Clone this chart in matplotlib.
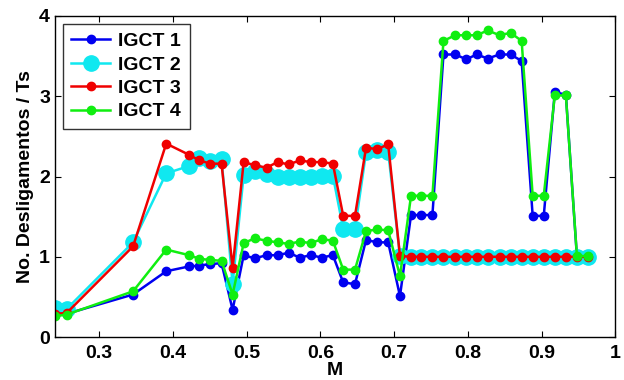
import matplotlib
matplotlib.use("Agg")
import matplotlib.pyplot as plt

plt.rcParams['font.family'] = ['Liberation Sans', 'DejaVu Sans']
plt.rcParams['font.weight'] = 'bold'

M = [0.240, 0.256, 0.346, 0.391, 0.422, 0.436, 0.451, 0.466, 0.481,
     0.496, 0.511, 0.527, 0.542, 0.557, 0.572, 0.587, 0.602, 0.617,
     0.631, 0.647, 0.662, 0.677, 0.692, 0.708, 0.723, 0.737, 0.752,
     0.767, 0.783, 0.798, 0.812, 0.827, 0.843, 0.858, 0.873,
     0.888, 0.903, 0.918, 0.933, 0.948, 0.963]

igct1 = [0.28, 0.29, 0.53, 0.82, 0.88, 0.89, 0.91, 0.92, 0.34,
         1.02, 0.98, 1.02, 1.02, 1.05, 0.99, 1.02, 0.99, 1.02,
         0.68, 0.66, 1.21, 1.18, 1.18, 0.51, 1.52, 1.52, 1.52,
         3.52, 3.52, 3.46, 3.52, 3.47, 3.52, 3.52, 3.44,
         1.51, 1.51, 3.05, 3.02, 1.00, 1.00]
igct2 = [0.36, 0.35, 1.18, 2.04, 2.13, 2.23, 2.19, 2.22, 0.66,
         2.02, 2.07, 2.03, 2.00, 2.00, 2.00, 2.00, 2.01, 2.01,
         1.35, 1.35, 2.30, 2.33, 2.31, 1.01, 1.00, 1.00, 1.00,
         1.00, 1.00, 1.00, 1.00, 1.00, 1.00, 1.00, 1.00,
         1.00, 1.00, 1.00, 1.00, 1.00, 1.00]
igct3 = [0.29, 0.30, 1.13, 2.41, 2.27, 2.20, 2.16, 2.16, 0.86,
         2.18, 2.14, 2.11, 2.18, 2.15, 2.20, 2.18, 2.18, 2.16,
         1.51, 1.51, 2.36, 2.34, 2.40, 1.01, 1.00, 1.00, 1.00,
         1.00, 1.00, 1.00, 1.00, 1.00, 1.00, 1.00, 1.00,
         1.00, 1.00, 1.00, 1.00, 1.00, 1.00]
igct4 = [0.26, 0.28, 0.57, 1.09, 1.02, 0.975, 0.96, 0.95, 0.53,
         1.17, 1.23, 1.20, 1.18, 1.16, 1.19, 1.17, 1.22, 1.20,
         0.84, 0.84, 1.32, 1.34, 1.33, 0.76, 1.76, 1.76, 1.76,
         3.69, 3.76, 3.76, 3.76, 3.82, 3.76, 3.79, 3.69,
         1.76, 1.76, 3.01, 3.01, 1.01, 1.01]

fig = plt.figure(figsize=(6.24, 3.8), dpi=100)
ax = fig.add_axes([0.088, 0.113, 0.898, 0.845])

ax.plot(M, igct1, color='#0000f0', lw=1.8, marker='o', ms=6, label='IGCT 1')
ax.plot(M, igct2, color='#10e8f0', lw=1.8, marker='o', ms=11, label='IGCT 2')
ax.plot(M, igct3, color='#f00000', lw=1.8, marker='o', ms=6, label='IGCT 3')
ax.plot(M, igct4, color='#10ee10', lw=1.8, marker='o', ms=6, label='IGCT 4')

ax.set_xlim(0.24, 1.0)
ax.set_ylim(0, 4)
ax.set_xticks([0.3, 0.4, 0.5, 0.6, 0.7, 0.8, 0.9, 1.0])
ax.set_xticklabels(['0.3', '0.4', '0.5', '0.6', '0.7', '0.8', '0.9', '1'])
ax.set_yticks([0, 1, 2, 3, 4])
ax.tick_params(direction='in', top=True, right=True, length=4, labelsize=14)
ax.tick_params(axis='x', pad=6)
for s in ax.spines.values():
    s.set_linewidth(1.0)

ax.set_xlabel('M', fontsize=14, fontweight='bold', labelpad=0)
ax.set_ylabel('No. Desligamentos / Ts', fontsize=14, fontweight='bold', labelpad=4)

leg = ax.legend(loc='upper left', fontsize=14, frameon=True, fancybox=False,
                edgecolor='black', handlelength=2.0, handletextpad=0.4,
                borderpad=0.45, labelspacing=0.3, borderaxespad=0.4)
leg.get_frame().set_linewidth(1.0)

fig.savefig('out.png', dpi=100)
